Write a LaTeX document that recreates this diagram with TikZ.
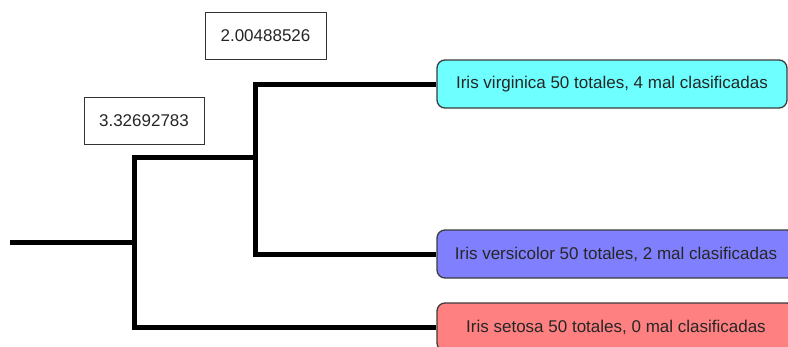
\documentclass[tikz,border=0pt]{standalone}
\usepackage{fontspec}
\setmainfont{Liberation Sans}
\definecolor{virgc}{RGB}{110,255,255}
\definecolor{versc}{RGB}{128,128,255}
\definecolor{setoc}{RGB}{255,128,128}
\definecolor{edgec}{RGB}{60,60,60}
\begin{document}
\begin{tikzpicture}[x=1pt,y=-1pt,
  leaf/.style={draw=edgec,line width=1.3pt,rounded corners=8pt,minimum height=48pt,inner sep=0pt,
    font=\fontsize{17}{20}\selectfont,text=black!85},
  numbox/.style={draw=black!80,line width=0.9pt,minimum height=47pt,inner sep=0pt,
    font=\fontsize{17}{20}\selectfont,text=black!85},
  branch/.style={line width=5pt,line cap=rect}]
\useasboundingbox (0,0) rectangle (788,346);
\clip (0,0) rectangle (788,346);
\fill[white] (0,0) rectangle (788,346);
\node[leaf,fill=virgc,minimum width=350pt] (virg) at (612,84) {Iris virginica 50 totales, 4 mal clasificadas};
\node[leaf,fill=versc,minimum width=358pt] (vers) at (616,254) {Iris versicolor 50 totales, 2 mal clasificadas};
\node[leaf,fill=setoc,minimum width=358pt] (seto) at (616,327) {Iris setosa 50 totales, 0 mal clasificadas};
\node[numbox,minimum width=121pt] (lab1) at (265.5,35.5) {2.00488526};
\node[numbox,minimum width=120pt] (lab2) at (144,120.5) {3.32692783};
\coordinate (r) at (12,242);
\coordinate (a) at (134,242);
\coordinate (a1) at (134,157);
\coordinate (a2) at (134,327);
\coordinate (b) at (255,157);
\coordinate (b1) at (255,84);
\coordinate (b2) at (255,254);
\draw[branch] (r) -- (a);
\draw[branch] (a1) -- (a2);
\draw[branch] (a1) -- (b);
\draw[branch] (b1) -- (b2);
\draw[line width=5pt] (b1) -- (virg.west);
\draw[line width=5pt] (b2) -- (vers.west);
\draw[line width=5pt] (a2) -- (seto.west);
\end{tikzpicture}
\end{document}
